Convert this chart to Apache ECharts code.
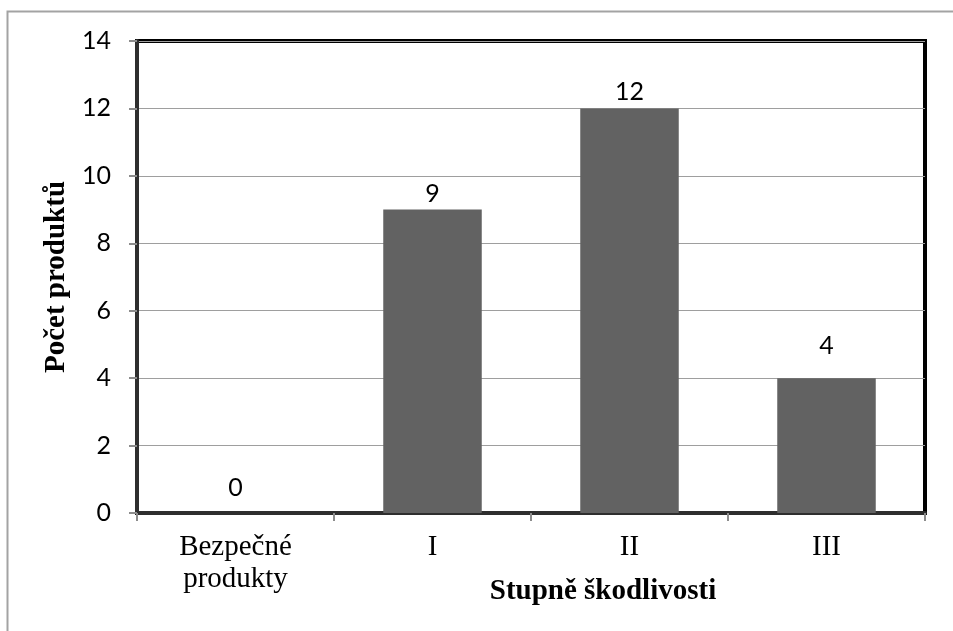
<!DOCTYPE html>
<html>
<head>
<meta charset="utf-8">
<style>
  html, body { margin: 0; padding: 0; background: #fff; }
  #chart { width: 953px; height: 631px; }
</style>
<script src="https://cdn.jsdelivr.net/npm/echarts@6/dist/echarts.min.js"></script>
</head>
<body>
<div id="chart"></div>
<script>
// Number of products per harmfulness degree
const categories = ['Bezpečné\nprodukty', 'I', 'II', 'III'];
const counts = [0, 9, 12, 4];
const yTicks = { min: 0, max: 14, interval: 2 };
const yTitle = 'Počet produktů';
const xTitle = 'Stupně škodlivosti';

// distance of each value label above its bar
const labelGaps = [13, 3, 4, 20];

const numFont = 'Lato, "Open Sans", sans-serif';
const serifFont = '"Liberation Serif", "DejaVu Serif", serif';

const chart = echarts.init(document.getElementById('chart'), null, { renderer: 'canvas' });

chart.setOption({
  animation: false,
  backgroundColor: '#fff',
  grid: {
    left: 137, right: 28, top: 41, bottom: 118,
    show: true, borderColor: '#000', borderWidth: 4
  },
  xAxis: {
    type: 'category',
    data: categories,
    boundaryGap: true,
    axisLine: { lineStyle: { color: '#2e2e2e', width: 4 } },
    axisTick: { show: true, length: 8, alignWithLabel: false, lineStyle: { color: '#8c8c8c', width: 2 } },
    axisLabel: {
      margin: 18,
      fontFamily: serifFont, fontSize: 29, lineHeight: 32, color: '#000'
    },
    splitLine: { show: false }
  },
  yAxis: {
    type: 'value',
    min: yTicks.min, max: yTicks.max, interval: yTicks.interval,
    name: yTitle,
    nameLocation: 'middle',
    nameGap: 62,
    nameTextStyle: { fontFamily: serifFont, fontSize: 29, fontWeight: 'bold', color: '#000' },
    axisLine: { show: true, lineStyle: { color: '#2e2e2e', width: 4 } },
    axisTick: { show: true, length: 8, lineStyle: { color: '#8c8c8c', width: 2 } },
    axisLabel: { margin: 26, fontFamily: numFont, fontSize: 25, color: '#000' },
    splitLine: { show: true, lineStyle: { color: '#9e9e9e', width: 1 } }
  },
  series: [{
    type: 'bar',
    barWidth: '50%',
    data: counts.map((v, i) => ({
      value: v,
      label: { distance: labelGaps[i] }
    })),
    itemStyle: { color: '#626262' },
    label: {
      show: true, position: 'top',
      fontFamily: numFont, fontSize: 25, color: '#000'
    }
  }],
  graphic: [
    {
      type: 'rect', silent: true, z: -1,
      shape: { x: 7.5, y: 11.5, width: 1000, height: 700 },
      style: { fill: 'none', stroke: '#a3a3a3', lineWidth: 2 }
    },
    {
      type: 'text', silent: true,
      x: 603, y: 592,
      style: {
        text: xTitle,
        fontFamily: serifFont, fontSize: 29, fontWeight: 'bold', fill: '#000',
        textAlign: 'center', textVerticalAlign: 'middle'
      }
    }
  ]
});
</script>
</body>
</html>
